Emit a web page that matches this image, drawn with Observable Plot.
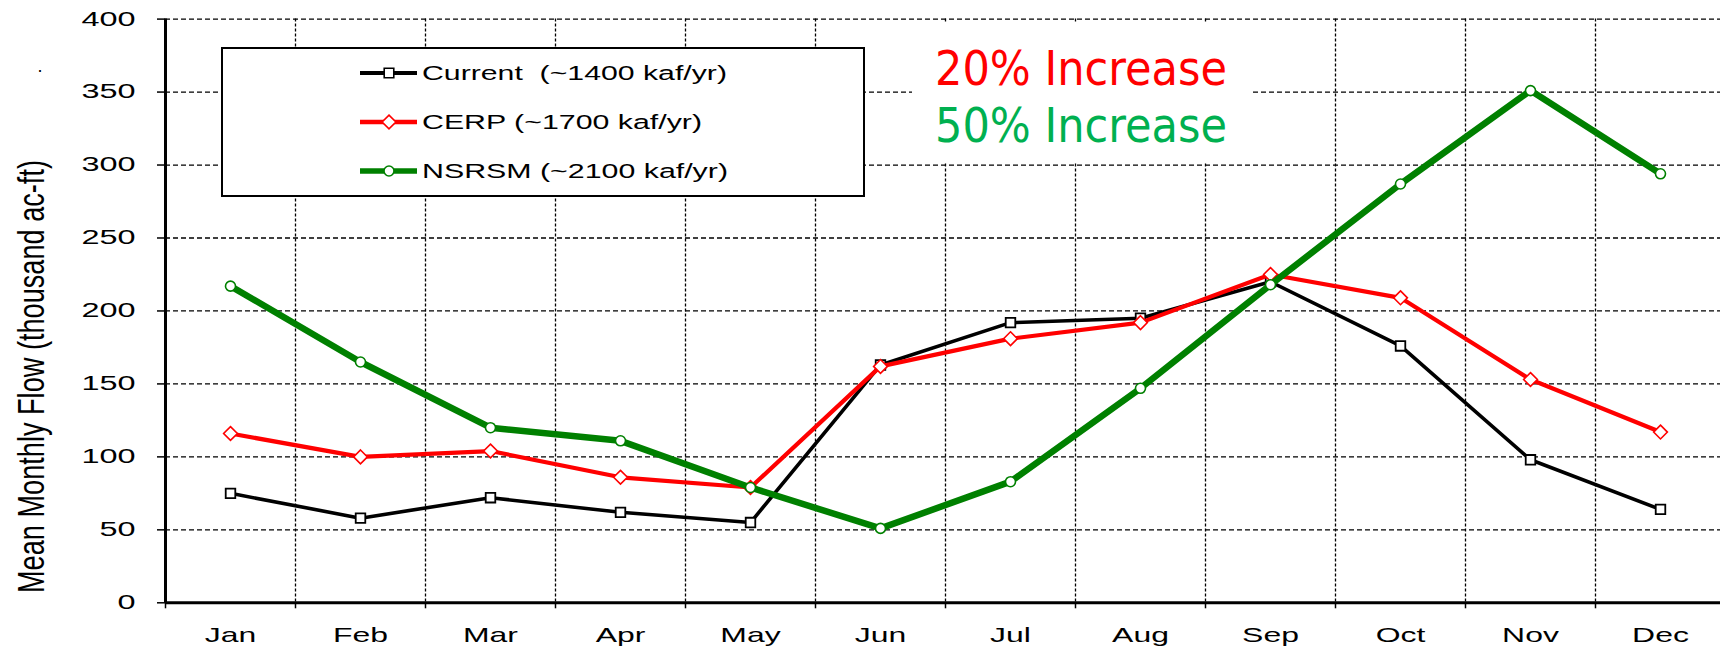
<!DOCTYPE html>
<html>
<head>
<meta charset="utf-8">
<script src="https://cdn.jsdelivr.net/npm/d3@7"></script>
<script src="https://cdn.jsdelivr.net/npm/@observablehq/plot@0.6"></script>
<style>
  html, body { margin: 0; padding: 0; background: #fff; overflow: hidden; }
  #chart svg { overflow: hidden; display: block; }
</style>
</head>
<body>
<div id="chart"></div>
<script>
// ---- data ----
const months = ["Jan","Feb","Mar","Apr","May","Jun","Jul","Aug","Sep","Oct","Nov","Dec"];
const current = [75, 58, 72, 62, 55, 163, 192, 195, 220, 176, 98, 64];
const cerp    = [116, 100, 104, 86, 79, 162, 181, 192, 225, 209, 153, 117];
const nsrsm   = [217, 165, 120, 111, 79, 51, 83, 147, 218, 287, 351, 294];
const seriesLabels = ["Current  (~1400 kaf/yr)", "CERP (~1700 kaf/yr)", "NSRSM (~2100 kaf/yr)"];
const yTicks = [0, 50, 100, 150, 200, 250, 300, 350, 400];
const yTitle = "Mean Monthly Flow (thousand ac-ft)";
const notes = ["20% Increase", "50% Increase"];

const rows = (vals) => vals.map((v, i) => ({month: months[i], value: v}));
const xPos = (d) => months.indexOf(d.month) + 0.5;

const W = 1720, H = 648;
const BLACK = "#000000", RED = "#ff0000", GREEN = "#008000";

function seriesMarks(vals, color, lw, symbol, r, sw) {
  return [
    Plot.line(rows(vals), {x: xPos, y: "value", stroke: color, strokeWidth: lw, strokeLinejoin: "miter", strokeLinecap: "butt"}),
    Plot.dot(rows(vals), {x: xPos, y: "value", symbol, r, fill: "#fff", stroke: color, strokeWidth: sw})
  ];
}

const chart = Plot.plot({
  width: W, height: H,
  marginLeft: 165, marginRight: 0, marginTop: 18.6, marginBottom: 45.7,
  style: {fontFamily: "'Liberation Sans', Arial, sans-serif", background: "#fff", color: "#000"},
  x: {type: "linear", domain: [0, 12], range: [165, 1725]},
  y: {domain: [0, 400], range: [602.3, 18.6]},
  marks: [
    Plot.gridY(yTicks.filter(t => t > 0), {stroke: "#000", strokeOpacity: 1, strokeWidth: 1.3, strokeDasharray: "5,3"}),
    Plot.gridX(d3.range(1, 12), {stroke: "#000", strokeOpacity: 1, strokeWidth: 1.3, strokeDasharray: "3,2"}),
    Plot.axisY({ticks: yTicks, tickSize: 8, tickPadding: 22, fontSize: 20, tickFormat: d => String(d), stroke: "#000", strokeWidth: 1.5, label: null}),
    Plot.axisX({ticks: d3.range(0, 13), tickSize: 6, tickFormat: () => "", stroke: "#000", strokeWidth: 1.5, label: null}),
    Plot.axisX({ticks: d3.range(0, 12).map(i => i + 0.5), tickSize: 0, tickPadding: 24.5, fontSize: 21, tickFormat: d => months[Math.floor(d)], label: null}),
    Plot.ruleX([0], {stroke: "#000", strokeWidth: 3}),
    Plot.ruleY([0], {stroke: "#000", strokeWidth: 3}),
    ...seriesMarks(current, BLACK, 3.6, "square", 5.4, 1.8),
    ...seriesMarks(cerp, RED, 4.2, "diamond2", 6.2, 1.6),
    ...seriesMarks(nsrsm, GREEN, 6.5, "circle", 5, 1.6)
  ]
});
document.getElementById("chart").appendChild(chart);

const svg = d3.select(chart);
function stretch(sel, k) {
  sel.each(function () {
    const L = this.getComputedTextLength();
    if (L > 0) { this.setAttribute("textLength", L * k); this.setAttribute("lengthAdjust", "spacingAndGlyphs"); }
  });
}
stretch(svg.selectAll('g[aria-label="y-axis tick label"] text'), 1.62);
stretch(svg.selectAll('g[aria-label="x-axis tick label"] text'), 1.52);

// y title
svg.append("text")
  .attr("transform", "translate(44,376.5) rotate(-90)")
  .attr("text-anchor", "middle")
  .attr("font-size", 37)
  .attr("font-family", "'Liberation Sans', Arial, sans-serif")
  .attr("fill", "#000")
  .attr("textLength", 433).attr("lengthAdjust", "spacingAndGlyphs")
  .text(yTitle);
svg.append("text").attr("x", 40).attr("y", 72).attr("text-anchor", "middle").attr("font-size", 18).text(".");

// legend box
const lg = svg.append("g");
lg.append("rect").attr("x", 222).attr("y", 48).attr("width", 642).attr("height", 148)
  .attr("fill", "#fff").attr("stroke", "#000").attr("stroke-width", 2);
const legendDefs = [
  {color: BLACK, lw: 4, sym: d3.symbolSquare, r: 5.4, len: 305},
  {color: RED, lw: 4.5, sym: d3.symbolDiamond2, r: 6.2, len: 280},
  {color: GREEN, lw: 5.5, sym: d3.symbolCircle, r: 5, len: 306}
];
const rowY = [73, 122, 171];
legendDefs.forEach((d, i) => {
  const y = rowY[i];
  lg.append("line").attr("x1", 360).attr("x2", 417).attr("y1", y).attr("y2", y)
    .attr("stroke", d.color).attr("stroke-width", d.lw);
  lg.append("path").attr("d", d3.symbol(d.sym, Math.PI * d.r * d.r)())
    .attr("transform", `translate(389,${y})`).attr("fill", "#fff").attr("stroke", d.color).attr("stroke-width", 1.6);
  lg.append("text").attr("x", 422).attr("y", y + 7.4).attr("font-size", 20.5)
    .attr("text-anchor", "start")
    .attr("font-family", "'Liberation Sans', Arial, sans-serif").attr("fill", "#000")
    .attr("textLength", d.len).attr("lengthAdjust", "spacingAndGlyphs")
    .text(seriesLabels[i]);
});

// annotation
svg.append("rect").attr("x", 912).attr("y", 22).attr("width", 339).attr("height", 140).attr("fill", "#fff");
[[notes[0], RED, 85], [notes[1], "#00b050", 141.7]].forEach(([t, c, y]) => {
  svg.append("text").attr("x", 935).attr("y", y).attr("font-size", 48)
    .attr("text-anchor", "start")
    .attr("font-family", "'DejaVu Sans', Verdana, sans-serif").attr("fill", c)
    .attr("textLength", 292).attr("lengthAdjust", "spacingAndGlyphs").text(t);
});
</script>
</body>
</html>
